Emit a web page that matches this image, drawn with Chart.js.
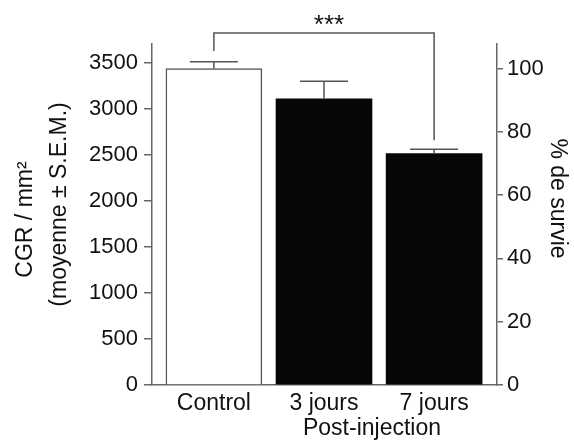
<!DOCTYPE html>
<html>
<head>
<meta charset="utf-8">
<script src="https://cdn.jsdelivr.net/npm/chart.js@4/dist/chart.umd.min.js"></script>
<style>
html, body { margin: 0; padding: 0; background: #fff; }
</style>
</head>
<body>
<canvas id="cgrChart" width="574" height="446"></canvas>
<script>
// data
var categories = ["Control", "3 jours", "7 jours"];
var positions = [0, 1, 2];
var means = [3440, 3110, 2515];
var sems = [72, 192, 47];
var barColors = ["#ffffff", "#070707", "#070707"];
var leftTicks = [0, 500, 1000, 1500, 2000, 2500, 3000, 3500];
var rightTicks = [0, 20, 40, 60, 80, 100];
var controlMean = 3440;          // = 100 % de survie
var leftMax = 3706;
var rightMax = leftMax / controlMean * 100;
// significance bracket Control vs 7 jours
var bracketPos = [0, 2];
var bracketLevels = [3630, 3826, 2660];  // left end, top, right end
var bracketLabel = "***";

var axisColor = "#666";
var textColor = "#111";
var fontFamily = "'Liberation Sans', Arial, sans-serif";
var fontSize = 22;
var titleSize = 23;

var overlay = {
    id: 'overlay',
    afterDatasetsDraw: function(chart) {
        var ctx = chart.ctx;
        var xs = chart.scales.x, ys = chart.scales.y;
        var half = 24;
        ctx.save();
        ctx.strokeStyle = "#555";
        ctx.lineWidth = 1.5;
        // error bars (upper only)
        for (var i = 0; i < means.length; i++) {
            var x = xs.getPixelForValue(positions[i]);
            var y0 = ys.getPixelForValue(means[i]);
            var y1 = ys.getPixelForValue(means[i] + sems[i]);
            ctx.beginPath();
            ctx.moveTo(x, y0);
            ctx.lineTo(x, y1);
            ctx.moveTo(x - half, y1);
            ctx.lineTo(x + half, y1);
            ctx.stroke();
        }
        // bracket
        var bx0 = xs.getPixelForValue(bracketPos[0]);
        var bx1 = xs.getPixelForValue(bracketPos[1]);
        var top = ys.getPixelForValue(bracketLevels[1]);
        ctx.beginPath();
        ctx.moveTo(bx0, ys.getPixelForValue(bracketLevels[0]));
        ctx.lineTo(bx0, top);
        ctx.lineTo(bx1, top);
        ctx.lineTo(bx1, ys.getPixelForValue(bracketLevels[2]));
        ctx.stroke();
        ctx.fillStyle = textColor;
        ctx.font = "26px " + fontFamily;
        ctx.textAlign = "center";
        ctx.textBaseline = "middle";
        ctx.fillText(bracketLabel, (bx0 + bx1) / 2 + 5, top - 7);

        // axis titles
        ctx.font = titleSize + "px " + fontFamily;
        var cy = (chart.chartArea.top + chart.chartArea.bottom) / 2;
        ctx.save();
        ctx.translate(26, cy + 5);
        ctx.rotate(-Math.PI / 2);
        ctx.fillText("CGR / mm²", 0, 0);
        ctx.restore();
        ctx.save();
        ctx.translate(60, cy - 10);
        ctx.rotate(-Math.PI / 2);
        ctx.fillText("(moyenne ± S.E.M.)", 0, 0);
        ctx.restore();
        ctx.save();
        ctx.translate(557, cy - 16);
        ctx.rotate(Math.PI / 2);
        ctx.fillText("% de survie", 0, 0);
        ctx.restore();
        ctx.fillText("Post-injection", 372, 429);
        ctx.restore();
    }
};

new Chart(document.getElementById("cgrChart").getContext('2d'), {
    type: 'bar',
    data: {
        datasets: [{
            data: positions.map(function(p, i) { return {x: p, y: means[i]}; }),
            backgroundColor: barColors,
            borderColor: ["#555", "#070707", "#070707"],
            borderWidth: [1.5, 0, 0],
            barThickness: 96
        }]
    },
    options: {
        responsive: false,
        animation: false,
        devicePixelRatio: 1,
        layout: { padding: { top: 44, left: 0, right: 0, bottom: 0 } },
        plugins: { legend: { display: false }, tooltip: { enabled: false } },
        scales: {
            x: {
                type: 'linear',
                offset: false,
                min: -0.562,
                max: 2.571,
                afterFit: function(s) { s.height = 61; },
                afterBuildTicks: function(s) { s.ticks = positions.map(function(v) { return {value: v}; }); },
                grid: { display: false, drawTicks: false },
                border: { display: true, color: axisColor, width: 1.5 },
                ticks: {
                    padding: 5,
                    maxRotation: 0,
                    autoSkip: false,
                    color: textColor,
                    font: { family: fontFamily, size: titleSize },
                    callback: function(v) { return categories[v] || ''; }
                }
            },
            y: {
                position: 'left',
                min: 0,
                max: leftMax,
                afterFit: function(s) { s.width = 152; },
                afterBuildTicks: function(s) { s.ticks = leftTicks.map(function(v) { return {value: v}; }); },
                grid: { drawOnChartArea: false, color: axisColor, lineWidth: 1.5, tickLength: 8 },
                border: { display: true, color: axisColor, width: 1.5 },
                ticks: {
                    padding: 6, color: textColor, font: { family: fontFamily, size: fontSize },
                    callback: function(v) { return String(v); }
                }
            },
            y2: {
                position: 'right',
                min: 0,
                max: rightMax,
                afterFit: function(s) { s.width = 77; },
                afterBuildTicks: function(s) { s.ticks = rightTicks.map(function(v) { return {value: v}; }); },
                grid: { drawOnChartArea: false, color: axisColor, lineWidth: 1.5, tickLength: 6 },
                border: { display: true, color: axisColor, width: 1.5 },
                ticks: {
                    padding: 4, color: textColor, font: { family: fontFamily, size: fontSize },
                    callback: function(v) { return String(v); }
                }
            }
        }
    },
    plugins: [overlay]
});
</script>
</body>
</html>
